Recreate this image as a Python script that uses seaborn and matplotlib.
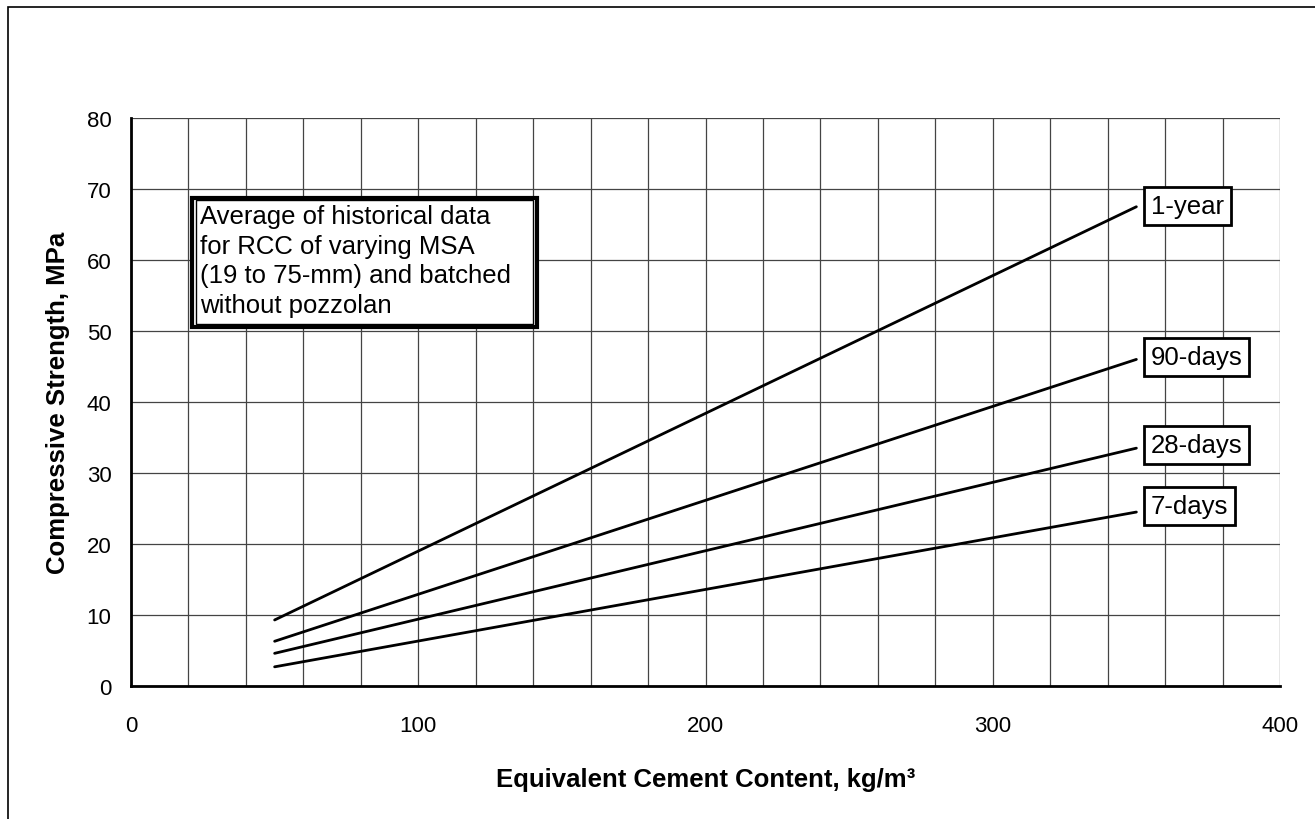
import numpy as np
import pandas as pd
import matplotlib
matplotlib.use("Agg")
import matplotlib.pyplot as plt
import matplotlib.patches as patches
import seaborn as sns

# --- data ---
cement = [50, 350]
strength_1yr = [9.3, 67.5]
strength_90d = [6.3, 46.0]
strength_28d = [4.6, 33.5]
strength_7d = [2.7, 24.5]
series_names = ["1-year", "90-days", "28-days", "7-days"]
x_ticks = [0, 100, 200, 300, 400]
y_ticks = list(range(0, 90, 10))

df = pd.DataFrame({
    "cement": cement * 4,
    "strength": strength_1yr + strength_90d + strength_28d + strength_7d,
    "age": [n for n in series_names for _ in cement],
})

sns.set_style("white")
plt.rcParams["font.family"] = ["Liberation Sans", "DejaVu Sans"]
plt.rcParams["text.color"] = "black"
plt.rcParams["axes.labelcolor"] = "black"
plt.rcParams["xtick.color"] = "black"
plt.rcParams["ytick.color"] = "black"

fig = plt.figure(figsize=(13.15, 8.2), dpi=100)
ax = fig.add_axes([131 / 1315, 133 / 820, 1149 / 1315, 568 / 820])

sns.lineplot(data=df, x="cement", y="strength", units="age", estimator=None,
             color="black", linewidth=2.0, ax=ax, legend=False)

ax.set_xlim(0, 400)
ax.set_ylim(0, 80)
ax.set_xticks(x_ticks)
ax.set_xticks(np.arange(0, 401, 20), minor=True)
ax.set_yticks(y_ticks)
ax.grid(which="both", color="#444444", linewidth=0.9)
ax.tick_params(axis="both", which="major", direction="inout", length=10,
               width=1.5, labelsize=16)
ax.tick_params(axis="x", which="minor", length=0)
ax.tick_params(axis="x", pad=16)
ax.tick_params(axis="y", pad=9)
for s in ["top", "right"]:
    ax.spines[s].set_visible(False)
for s in ["left", "bottom"]:
    ax.spines[s].set_linewidth(2.0)
    ax.spines[s].set_color("black")
ax.set_axisbelow(True)

ax.set_xlabel("Equivalent Cement Content, kg/m\u00b3", fontsize=18.5,
              fontweight="bold", labelpad=22)
ax.set_ylabel("Compressive Strength, MPa", fontsize=18.5,
              fontweight="bold", labelpad=12)

# series labels at line ends
label_y = {"1-year": 67.6, "90-days": 46.3, "28-days": 33.9, "7-days": 25.3}
for name in series_names:
    ax.text(355.0, label_y[name], name, fontsize=18.5, va="center", ha="left",
            bbox=dict(boxstyle="square,pad=0.27", fc="white", ec="black", lw=2.0),
            zorder=5)

# annotation box with double border
outer = patches.Rectangle((21.4, 50.6), 119.8, 18.2, fc="white", ec="black",
                          lw=3.0, zorder=3)
inner = patches.Rectangle((22.5, 51.0), 117.6, 17.4, fc="none", ec="black",
                          lw=1.0, zorder=4)
ax.add_patch(outer)
ax.add_patch(inner)
ax.text(24.0, 67.9, "Average of historical data\nfor RCC of varying MSA\n"
        "(19 to 75-mm) and batched\nwithout pozzolan",
        fontsize=18.5, va="top", ha="left", linespacing=1.3, zorder=5)

# outer chart frame
fig.patches.append(patches.Rectangle((8 / 1315, -0.01), 1.1, (812 / 820) + 0.01,
                                     transform=fig.transFigure, fill=False,
                                     ec="black", lw=1.2))

fig.savefig("out.png", dpi=100)
